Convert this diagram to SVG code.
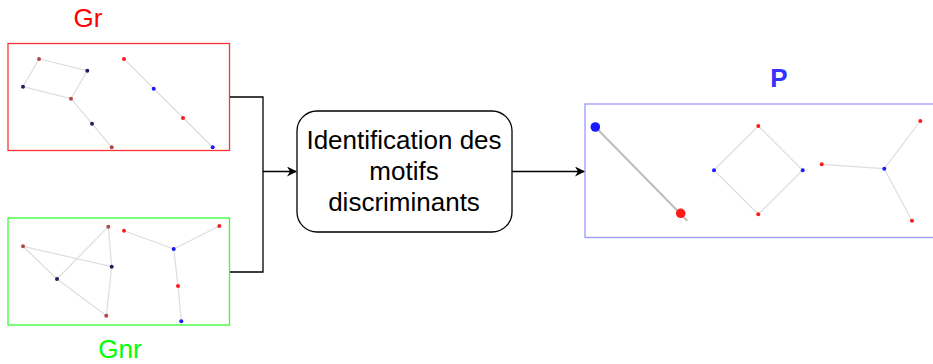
<svg xmlns="http://www.w3.org/2000/svg" width="933" height="364" viewBox="0 0 933 364">
  <defs>
    <marker id="arrow" viewBox="0 0 10 10" refX="9" refY="5" markerWidth="10" markerHeight="10" markerUnits="userSpaceOnUse" orient="auto">
      <path d="M0,0 L10,5 L0,10 L3,5 z" fill="#000"/>
    </marker>
    <style>
      text { font-family: "Liberation Sans", Arial, sans-serif; font-size: 26px; text-anchor: middle; }
      .edge { stroke: #dedede; stroke-width: 1.2; fill: none; }
      .edge2 { stroke: #bdbdbd; stroke-width: 2; fill: none; }
      .nr { fill: #b04a4a; }
      .nb { fill: #20205e; }
      .r { fill: #ff1a1a; }
      .b { fill: #1a1aff; }
      .conn { stroke: #000; stroke-width: 1.3; fill: none; }
    </style>
  </defs>
  <rect width="933" height="364" fill="#fff"/>

  <!-- graph set Gr -->
  <g id="gr">
    <text x="88" y="27" fill="#ff0000">Gr</text>
    <rect x="8" y="43.5" width="221.5" height="107" fill="#fff" stroke="#ff3333" stroke-width="1.3"/>
    <g class="edge">
      <line x1="39" y1="59" x2="87.3" y2="70.7"/>
      <line x1="39" y1="59" x2="23" y2="86.7"/>
      <line x1="23" y1="86.7" x2="71" y2="98.7"/>
      <line x1="87.3" y1="70.7" x2="71" y2="98.7"/>
      <line x1="71" y1="98.7" x2="92" y2="123.7"/>
      <line x1="92" y1="123.7" x2="111.7" y2="147.3"/>
      <line x1="124" y1="59" x2="212.7" y2="147.3"/>
    </g>
    <circle class="nr" cx="39" cy="59" r="2"/>
    <circle class="nb" cx="87.3" cy="70.7" r="2"/>
    <circle class="nb" cx="23" cy="86.7" r="2"/>
    <circle class="nr" cx="71" cy="98.7" r="2"/>
    <circle class="nb" cx="92" cy="123.7" r="2"/>
    <circle class="nr" cx="111.7" cy="147.3" r="2"/>
    <circle class="r" cx="124" cy="59" r="2"/>
    <circle class="b" cx="153.7" cy="88.7" r="2"/>
    <circle class="r" cx="183" cy="118" r="2"/>
    <circle class="b" cx="212.7" cy="147.3" r="2"/>
  </g>

  <!-- graph set Gnr -->
  <g id="gnr">
    <rect x="8" y="218" width="221.5" height="107" fill="#fff" stroke="#33ff33" stroke-width="1.3"/>
    <g class="edge">
      <line x1="23" y1="246.3" x2="111.7" y2="266.7"/>
      <line x1="23" y1="246.3" x2="57" y2="279"/>
      <line x1="57" y1="279" x2="106.3" y2="315.7"/>
      <line x1="57" y1="279" x2="108.3" y2="226.7"/>
      <line x1="108.3" y1="226.7" x2="111.7" y2="266.7"/>
      <line x1="111.7" y1="266.7" x2="106.3" y2="315.7"/>
      <line x1="124" y1="230.7" x2="173.7" y2="249"/>
      <line x1="219.3" y1="226" x2="173.7" y2="249"/>
      <line x1="173.7" y1="249" x2="178" y2="286"/>
      <line x1="178" y1="286" x2="181.3" y2="321.3"/>
    </g>
    <circle class="nr" cx="23" cy="246.3" r="2"/>
    <circle class="nr" cx="108.3" cy="226.7" r="2"/>
    <circle class="nb" cx="111.7" cy="266.7" r="2"/>
    <circle class="nb" cx="57" cy="279" r="2"/>
    <circle class="nr" cx="106.3" cy="315.7" r="2"/>
    <circle class="r" cx="124" cy="230.7" r="2"/>
    <circle class="r" cx="219.3" cy="226" r="2"/>
    <circle class="b" cx="173.7" cy="249" r="2"/>
    <circle class="r" cx="178" cy="286" r="2"/>
    <circle class="b" cx="181.3" cy="321.3" r="2"/>
    <text x="120" y="358" fill="#00ff00">Gnr</text>
  </g>

  <!-- processing step -->
  <g id="identification">
    <rect x="297" y="111" width="215" height="121" rx="20" ry="20" fill="#fff" stroke="#000" stroke-width="1.3"/>
    <text x="404" y="149" fill="#000" font-size="26.5">Identification des</text>
    <text x="404" y="180" fill="#000" font-size="26.5">motifs</text>
    <text x="404" y="211" fill="#000" font-size="26.5">discriminants</text>
  </g>

  <!-- resulting patterns P -->
  <g id="p">
    <text x="779" y="87" fill="#3333ff" font-weight="bold">P</text>
    <rect x="585" y="104" width="360" height="133.5" fill="#fff" stroke="#9999ff" stroke-width="1.3"/>
    <line class="edge2" x1="595.3" y1="127" x2="687.3" y2="220.7"/>
    <circle class="b" cx="595.3" cy="127" r="4.8"/>
    <circle class="r" cx="680.7" cy="213.3" r="4.8"/>
    <g class="edge">
      <polygon points="758.3,126 802.7,170.3 758.3,214.3 714,170.3"/>
      <line x1="821.7" y1="164.3" x2="884.3" y2="168.7"/>
      <line x1="884.3" y1="168.7" x2="920.3" y2="121"/>
      <line x1="884.3" y1="168.7" x2="912" y2="220.7"/>
    </g>
    <circle class="r" cx="758.3" cy="126" r="2"/>
    <circle class="b" cx="714" cy="170.3" r="2"/>
    <circle class="b" cx="802.7" cy="170.3" r="2"/>
    <circle class="r" cx="758.3" cy="214.3" r="2"/>
    <circle class="r" cx="821.7" cy="164.3" r="2"/>
    <circle class="b" cx="884.3" cy="168.7" r="2"/>
    <circle class="r" cx="920.3" cy="121" r="2"/>
    <circle class="r" cx="912" cy="220.7" r="2"/>
  </g>

  <!-- connectors -->
  <g id="connectors">
    <polyline class="conn" points="230,97 263,97 263,272 230,272"/>
    <line class="conn" x1="263" y1="171.5" x2="296" y2="171.5" marker-end="url(#arrow)"/>
    <line class="conn" x1="512" y1="171.5" x2="584" y2="171.5" marker-end="url(#arrow)"/>
  </g>
</svg>
